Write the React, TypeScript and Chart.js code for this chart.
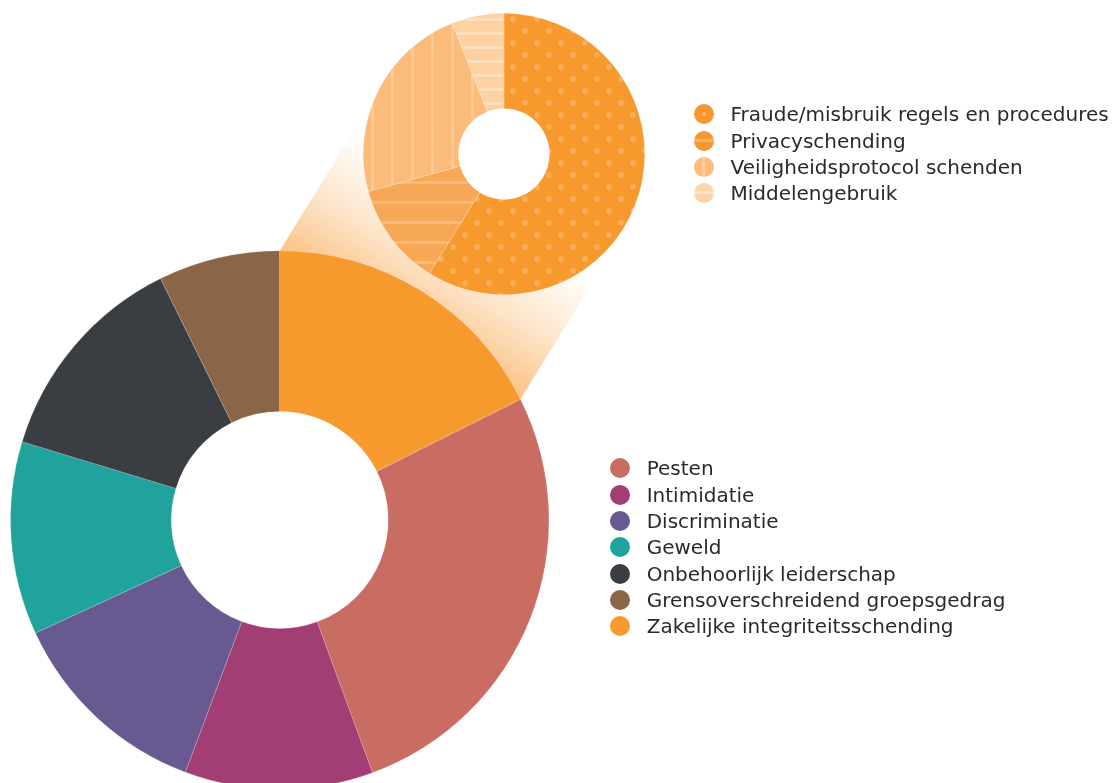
import React, { useEffect, useRef } from 'react';
import { Chart, registerables } from 'chart.js';

Chart.register(...registerables);

// ---- Data ----
const bigLabels = [
  'Pesten',
  'Intimidatie',
  'Discriminatie',
  'Geweld',
  'Onbehoorlijk leiderschap',
  'Grensoverschreidend groepsgedrag',
  'Zakelijke integriteitsschending',
];
const bigValues = [26.8, 11.3, 12.4, 11.6, 13.0, 7.3, 17.6];
const bigColors = ['#C96C62', '#A23E74', '#685A90', '#20A39C', '#3A3D42', '#8A6647', '#F79A2E'];

const smallLabels = [
  'Fraude/misbruik regels en procedures',
  'Privacyschending',
  'Veiligheidsprotocol schenden',
  'Middelengebruik',
];
const smallValues = [58.9, 11.8, 23.3, 6.0];
const smallBase = ['#F79A2E', '#F6A857', '#FABB7B', '#FDD1A1'];
const smallAccent = ['#FAB064', '#F8BA78', '#FCC993', '#FEDFBC'];
const smallKind = ['dots', 'hlines', 'vlines', 'hlines2'];

const FONT = '"DejaVu Sans", "Liberation Sans", Arial, sans-serif';

function makePattern(kind: string, base: string, accent: string): CanvasPattern | string {
  const c = document.createElement('canvas');
  let w = 20, h = 20;
  if (kind === 'dots') { w = 24; h = 24; }
  if (kind === 'hlines2') { w = 14; h = 14; }
  c.width = w; c.height = h;
  const x = c.getContext('2d');
  if (!x) return base;
  x.fillStyle = base;
  x.fillRect(0, 0, w, h);
  x.fillStyle = accent;
  if (kind === 'dots') {
    x.beginPath(); x.arc(6, 6, 2.7, 0, Math.PI * 2); x.fill();
    x.beginPath(); x.arc(18, 18, 2.7, 0, Math.PI * 2); x.fill();
  } else if (kind === 'hlines') {
    x.fillRect(0, 8, w, 3);
  } else if (kind === 'vlines') {
    x.fillRect(8, 0, 3, h);
  } else {
    x.fillRect(0, 5, w, 3);
  }
  const p = x.createPattern(c, 'repeat');
  return p || base;
}

const connectorPlugin = {
  id: 'connector',
  beforeDatasetsDraw(chart: any) {
    const meta = chart.getDatasetMeta(0);
    const arc: any = meta.data[bigLabels.length - 1];
    if (!arc) return;
    const { x, y, startAngle, endAngle, outerRadius } = arc.getProps(
      ['x', 'y', 'startAngle', 'endAngle', 'outerRadius'],
      true
    );
    const p1x = x + outerRadius * Math.cos(startAngle);
    const p1y = y + outerRadius * Math.sin(startAngle);
    const p2x = x + outerRadius * Math.cos(endAngle);
    const p2y = y + outerRadius * Math.sin(endAngle);
    const mx = (p1x + p2x) / 2;
    const my = (p1y + p2y) / 2;
    let ux = mx - x;
    let uy = my - y;
    const len = Math.hypot(ux, uy) || 1;
    ux /= len; uy /= len;
    const L = 320;
    const G = 140;
    const ctx = chart.ctx;
    const g = ctx.createLinearGradient(mx, my, mx + ux * G, my + uy * G);
    g.addColorStop(0, 'rgba(251,194,132,1)');
    g.addColorStop(0.5, 'rgba(251,196,136,0.42)');
    g.addColorStop(1, 'rgba(251,196,136,0)');
    ctx.save();
    ctx.beginPath();
    ctx.moveTo(p1x, p1y);
    ctx.lineTo(p1x + ux * L, p1y + uy * L);
    ctx.lineTo(p2x + ux * L, p2y + uy * L);
    ctx.lineTo(p2x, p2y);
    ctx.closePath();
    ctx.fillStyle = g;
    ctx.fill();
    ctx.restore();
  },
};

function LegendDot({ bg, size = 20 }: { bg: string; size?: number }) {
  return (
    <div
      style={{
        width: size,
        height: size,
        borderRadius: '50%',
        background: bg,
        flex: '0 0 auto',
      }}
    />
  );
}

const smallLegendBg = [
  'radial-gradient(circle at center, #FAB56C 0 1.8px, rgba(0,0,0,0) 2.4px), #F7962C',
  'linear-gradient(to bottom, rgba(0,0,0,0) 8.5px, #FAB36A 8.5px, #FAB36A 11.5px, rgba(0,0,0,0) 11.5px), #F7962C',
  'linear-gradient(to right, rgba(0,0,0,0) 8.5px, #FDCB94 8.5px, #FDCB94 11.5px, rgba(0,0,0,0) 11.5px), #FDBC7C',
  'linear-gradient(to bottom, rgba(0,0,0,0) 8.5px, #FEE5C9 8.5px, #FEE5C9 11.5px, rgba(0,0,0,0) 11.5px), #FDD4A8',
];

export default function App() {
  const bigRef = useRef<HTMLCanvasElement>(null);
  const smallRef = useRef<HTMLCanvasElement>(null);

  useEffect(() => {
    if (!bigRef.current || !smallRef.current) return;
    const total = bigValues.reduce((a, b) => a + b, 0);
    const lastShare = bigValues[bigValues.length - 1] / total;

    const big = new Chart(bigRef.current, {
      type: 'doughnut',
      data: {
        labels: bigLabels,
        datasets: [
          {
            data: bigValues,
            backgroundColor: bigColors,
            borderWidth: 0.5,
            borderColor: 'rgba(255,255,255,0.35)',
          },
        ],
      },
      options: {
        responsive: false,
        animation: false,
        events: [],
        rotation: lastShare * 360,
        cutout: '40.3%',
        layout: { padding: { left: 10, top: 250.5, right: 567.5, bottom: 10.5 } },
        plugins: { legend: { display: false }, tooltip: { enabled: false } },
      },
      plugins: [connectorPlugin],
    } as any);

    const patterns = smallKind.map((k, i) => makePattern(k, smallBase[i], smallAccent[i]));
    const small = new Chart(smallRef.current, {
      type: 'doughnut',
      data: {
        labels: smallLabels,
        datasets: [
          {
            data: smallValues,
            backgroundColor: patterns as any,
            borderWidth: 0.5,
            borderColor: 'rgba(255,255,255,0.35)',
          },
        ],
      },
      options: {
        responsive: false,
        animation: false,
        events: [],
        cutout: '32.3%',
        layout: { padding: 0 },
        plugins: { legend: { display: false }, tooltip: { enabled: false } },
      },
    } as any);

    return () => {
      big.destroy();
      small.destroy();
    };
  }, []);

  const rowH = 26.3;
  return (
    <div
      style={{
        position: 'absolute',
        left: 0,
        top: 0,
        width: 1117,
        height: 783,
        overflow: 'hidden',
        background: '#ffffff',
        fontFamily: FONT,
      }}
    >
      <canvas ref={bigRef} width={1117} height={800} style={{ position: 'absolute', left: 0, top: 0 }} />
      <canvas ref={smallRef} width={282} height={282} style={{ position: 'absolute', left: 363, top: 13 }} />

      <div style={{ position: 'absolute', left: 693.5, top: 114.5 - rowH / 2 }}>
        {smallLabels.map((l, i) => (
          <div key={l} style={{ display: 'flex', alignItems: 'center', height: rowH }}>
            <LegendDot bg={smallLegendBg[i]} />
            <span style={{ marginLeft: 17, fontSize: 20, color: '#2a2a2a', whiteSpace: 'nowrap' }}>{l}</span>
          </div>
        ))}
      </div>

      <div style={{ position: 'absolute', left: 610, top: 468.5 - rowH / 2 }}>
        {bigLabels.map((l, i) => (
          <div key={l} style={{ display: 'flex', alignItems: 'center', height: rowH }}>
            <LegendDot bg={bigColors[i]} />
            <span style={{ marginLeft: 16.7, fontSize: 20, color: '#2a2a2a', whiteSpace: 'nowrap' }}>{l}</span>
          </div>
        ))}
      </div>
    </div>
  );
}
